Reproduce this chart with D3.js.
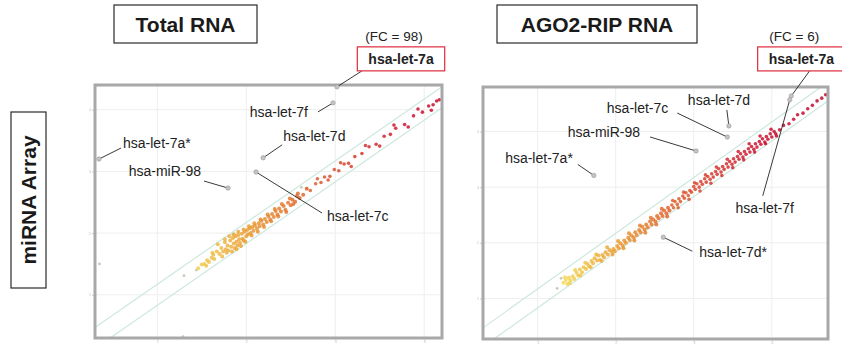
<!DOCTYPE html>
<html>
<head>
<meta charset="utf-8">
<script src="https://cdn.jsdelivr.net/npm/d3@7"></script>
<style>
  body { margin: 0; background: #fff; }
  svg { display: block; font-family: "Liberation Sans", Arial, sans-serif; }
</style>
</head>
<body>
<svg width="842" height="346"></svg>
<script>
// axis ticks (log intensity)
const tickVals = [1, 2, 3, 4];
const tickLabels = ["1", "2", "3", "4"];
const cutoff = 0.17;   // fold-change guide lines, y = x +/- cutoff

// ---- Total RNA panel ----
const totalPts = [
  [1.46,1.43],[1.50,1.49],[1.53,1.50],[1.56,1.56],[1.58,1.53],[1.61,1.60],[1.63,1.65],[1.64,1.58],
  [1.67,1.70],[1.68,1.82],[1.70,1.66],[1.72,1.76],[1.74,1.70],[1.76,1.85],[1.77,1.74],
  [1.79,1.80],[1.80,1.72],[1.82,1.88],[1.83,1.78],[1.85,1.92],[1.86,1.83],[1.87,1.76],[1.88,1.95],
  [1.89,1.86],[1.90,1.80],[1.91,1.97],[1.92,1.90],[1.93,1.84],[1.95,1.99],[1.96,1.91],[1.97,1.88],
  [1.98,2.02],[2.00,1.95],[2.01,2.05],[2.02,1.98],[2.04,2.08],[2.05,2.00],[2.07,2.10],[2.08,2.04],
  [2.10,2.12],[2.12,2.07],[2.14,2.16],[2.15,2.11],[2.17,2.20],[2.19,2.14],[2.21,2.23],[2.23,2.18],
  [2.25,2.27],[2.27,2.22],[2.29,2.31],[2.31,2.26],[2.33,2.36],[2.35,2.30],[2.37,2.40],[2.39,2.35],
  [2.42,2.44],[2.44,2.38],[2.47,2.49],[2.50,2.45],[2.52,2.54],[2.55,2.51],[2.57,2.60],[2.60,2.57],
  [1.76,1.90],[1.78,1.68],[1.81,1.95],[1.84,1.70],[1.86,1.98],[1.89,1.74],[1.91,2.02],[1.94,1.79],
  [1.97,2.06],[1.99,1.86],[2.03,2.11],[2.06,1.96],[2.09,2.16],[2.13,2.02],[2.16,2.22],[2.20,2.10],
  [2.24,2.30],[2.28,2.19],[2.32,2.39],[2.36,2.27],[2.40,2.47],[2.45,2.34],[2.49,2.56],[2.53,2.47],
  [2.58,2.64],[1.73,1.62],[1.62,1.68],[1.55,1.47],
  [2.64,2.62],[2.68,2.72],[2.72,2.69],[2.78,2.80],[2.84,2.82],[2.88,2.91],[2.94,2.92],[2.99,3.03],
  [3.04,3.01],[3.10,3.12],[3.15,3.13],[3.22,3.24],[3.30,3.29],[3.38,3.40],[3.46,3.44],[3.55,3.57],
  [3.62,3.60],[3.68,3.70],[3.78,3.76],[3.88,3.90],[3.98,3.96],[4.05,4.06],[4.10,4.08],[4.14,4.14],[4.17,4.16],
  [2.80,2.88],[2.92,2.86],[3.06,3.14],[3.18,3.08],[3.34,3.42],[3.50,3.41],[3.66,3.75],[3.82,3.72],
  [3.93,4.01],[4.08,3.99]
];
const totalStray = [[0.35,1.50],[1.29,0.32],[1.30,1.31],[1.44,1.40],[1.85,1.98],[2.62,2.74],[2.68,2.73]];
const totalNames = ["hsa-let-7a", "hsa-let-7f", "hsa-let-7a*", "hsa-let-7d", "hsa-miR-98", "hsa-let-7c"];
const totalOutX = [3.02, 2.975, 0.345, 2.19, 1.795, 2.11];
const totalOutY = [4.37, 4.11, 3.20, 3.22, 2.73, 2.99];

// ---- AGO2-RIP RNA panel ----
const ripPts = [
  [1.33,1.28],[1.36,1.33],[1.38,1.26],[1.40,1.37],[1.42,1.32],[1.45,1.40],[1.47,1.35],[1.50,1.46],
  [1.52,1.41],[1.54,1.52],[1.57,1.47],[1.59,1.56],[1.62,1.53],[1.64,1.62],[1.66,1.58],[1.69,1.67],
  [1.71,1.63],[1.73,1.72],[1.76,1.68],[1.78,1.77],[1.80,1.69],[1.83,1.78],[1.85,1.74],[1.87,1.83],
  [1.90,1.79],[1.92,1.87],[1.95,1.84],
  [1.97,1.89],[1.99,1.85],[2.02,1.94],[2.04,1.90],[2.06,1.99],[2.09,1.95],[2.11,2.04],[2.13,2.00],
  [2.16,2.09],[2.18,2.05],[2.20,2.13],[2.23,2.10],[2.25,2.19],[2.27,2.14],[2.30,2.23],[2.32,2.19],
  [2.34,2.29],[2.37,2.24],[2.39,2.33],[2.41,2.28],[2.44,2.38],[2.46,2.33],[2.48,2.42],[2.51,2.38],
  [2.53,2.48],[2.55,2.44],[2.58,2.53],[2.60,2.48],[2.62,2.58],[2.65,2.53],[2.67,2.63],[2.69,2.58],
  [2.72,2.68],[2.74,2.63],[2.76,2.74],[2.79,2.69],[2.81,2.79],[2.83,2.74],[2.86,2.84],[2.88,2.80],
  [2.90,2.90],[2.93,2.85],[2.95,2.94],
  [2.97,2.91],[3.00,3.01],[3.02,2.96],[3.04,3.06],[3.07,3.00],[3.09,3.10],[3.11,3.05],[3.14,3.15],
  [3.16,3.09],[3.18,3.19],[3.21,3.14],[3.23,3.24],[3.25,3.18],[3.28,3.28],[3.30,3.23],[3.32,3.33],
  [3.35,3.27],[3.37,3.37],[3.39,3.32],[3.42,3.42],[3.44,3.36],[3.46,3.46],[3.49,3.41],[3.51,3.51],
  [3.53,3.45],[3.56,3.55],[3.58,3.50],[3.60,3.60],[3.63,3.54],[3.65,3.64],[3.67,3.59],[3.70,3.69],
  [3.72,3.63],[3.74,3.73],[3.77,3.68],[3.79,3.78],[3.81,3.72],[3.84,3.82],[3.86,3.77],[3.88,3.87],
  [3.91,3.81],[3.93,3.91],[3.95,3.86],[3.98,3.96],[4.00,3.90],[4.03,4.00],[4.05,3.96],
  [1.35,1.38],[1.41,1.27],[1.48,1.51],[1.55,1.41],[1.61,1.64],[1.68,1.56],[1.75,1.79],[1.82,1.67],
  [1.89,1.92],[1.96,1.79],[2.03,2.03],[2.10,1.90],[2.17,2.17],[2.24,2.04],[2.31,2.31],[2.38,2.18],
  [2.45,2.45],[2.52,2.33],[2.59,2.61],[2.66,2.47],[2.73,2.76],[2.80,2.63],[2.87,2.91],[2.94,2.78],
  [3.01,3.08],[3.08,2.93],[3.15,3.22],[3.22,3.07],[3.29,3.36],[3.36,3.21],[3.43,3.50],[3.50,3.35],
  [3.57,3.64],[3.64,3.49],[3.71,3.78],[3.78,3.63],[3.85,3.92],[3.92,3.78],[3.99,4.04],[4.06,3.92],
  [4.10,4.03],[4.15,4.11],[4.22,4.14],[4.28,4.22],[4.33,4.30],[4.40,4.33],[4.46,4.41],[4.52,4.47],
  [4.58,4.55],[4.64,4.60],[4.69,4.66]
];
const ripStray = [[1.25,1.18],[1.30,1.36]];
const ripNames = ["hsa-let-7a", "hsa-let-7f", "hsa-let-7d", "hsa-let-7c", "hsa-miR-98", "hsa-let-7a*", "hsa-let-7d*"];
const ripOutX = [4.25, 4.23, 3.45, 3.43, 3.03, 1.72, 2.61];
const ripOutY = [4.64, 4.57, 4.10, 3.90, 3.65, 3.21, 2.10];

const foldChange = ["(FC = 98)", "(FC = 6)"];

const svg = d3.select("svg");
const heat = d3.scaleLinear()
  .domain([1.5, 2.0, 2.7, 3.3])
  .range(["#f0c848", "#e99a2c", "#dc5a22", "#d22a22"]);

// label layout: [leader dx, leader dy, text dx, text dy, anchor] relative to the point
const totalLayout = [
  [25, -16, 64, -23, "middle"],
  [-15, 9, -25, 14, "end"],
  [22, -11, 24, -11, "start"],
  [19, -13, 20, -17, "start"],
  [-24, -7, -27, -12, "end"],
  [66, 41, 71, 49, "start"]
];
const ripLayout = [
  [19, -26, 10, -32, "middle"],
  [-27, 96, -25, 113, "middle"],
  [-2, -16, -41, -21, "start"],
  [-50, -24, -59, -24, "end"],
  [-46, -14, -56, -14, "end"],
  [-16, -11, -21, -12, "end"],
  [29, 14, 36, 20, "start"]
];

function panel(box, xDom, yDom, pts, stray, names, ox, oy, layout, fc) {
  const x = d3.scaleLinear().domain(xDom).range([box.left, box.right]);
  const y = d3.scaleLinear().domain(yDom).range([box.bottom, box.top]);
  const g = svg.append("g");

  g.append("rect")
    .attr("x", box.left).attr("y", box.top)
    .attr("width", box.right - box.left).attr("height", box.bottom - box.top)
    .attr("fill", "#fff");

  // faint grid
  g.append("g").selectAll("line").data(tickVals).join("line")
    .attr("x1", d => x(d)).attr("x2", d => x(d))
    .attr("y1", box.top).attr("y2", box.bottom)
    .attr("stroke", "#eeeeee").attr("stroke-width", 1);
  g.append("g").selectAll("line").data(tickVals).join("line")
    .attr("y1", d => y(d)).attr("y2", d => y(d))
    .attr("x1", box.left).attr("x2", box.right)
    .attr("stroke", "#eeeeee").attr("stroke-width", 1);

  // tiny tick labels, as in the print
  const xAxis = d3.axisBottom(x).tickValues(tickVals).tickFormat((d, i) => tickLabels[i]).tickSize(1).tickPadding(0);
  const yAxis = d3.axisLeft(y).tickValues(tickVals).tickFormat((d, i) => tickLabels[i]).tickSize(2).tickPadding(1);
  const ax = g.append("g").attr("transform", "translate(0," + (box.bottom + 1.5) + ")").call(xAxis);
  const ay = g.append("g").attr("transform", "translate(" + (box.left - 1) + ",0)").call(yAxis);
  [ax, ay].forEach(a => {
    a.select(".domain").remove();
    a.selectAll("line").attr("stroke", "#ccc");
    a.selectAll("text").attr("fill", "#bbb").attr("font-size", 3.5);
  });

  // fold-change guide lines
  const clip = "clip" + box.left;
  svg.append("clipPath").attr("id", clip).append("rect")
    .attr("x", box.left).attr("y", box.top)
    .attr("width", box.right - box.left).attr("height", box.bottom - box.top);
  const guides = g.append("g").attr("clip-path", "url(#" + clip + ")");
  [cutoff, -cutoff].forEach(c => {
    guides.append("line")
      .attr("x1", x(xDom[0])).attr("y1", y(xDom[0] + c))
      .attr("x2", x(xDom[1])).attr("y2", y(xDom[1] + c))
      .attr("stroke", "#cde8dc").attr("stroke-width", 1.2);
  });

  guides.append("g").selectAll("circle").data(stray).join("circle")
    .attr("cx", d => x(d[0])).attr("cy", d => y(d[1]))
    .attr("r", 1.4).attr("fill", "#c9c9b8");

  guides.append("g").selectAll("circle").data(pts).join("circle")
    .attr("cx", d => x(d[0])).attr("cy", d => y(d[1]))
    .attr("r", d => d[0] > 2.7 ? 1.8 : 2.0)
    .attr("fill", d => heat(d[0]))
    .attr("fill-opacity", 0.8);

  // frame
  g.append("rect")
    .attr("x", box.left).attr("y", box.top)
    .attr("width", box.right - box.left).attr("height", box.bottom - box.top)
    .attr("fill", "none").attr("stroke", "#a8a8a8").attr("stroke-width", 3);

  // highlighted miRNAs
  names.forEach((name, i) => {
    const px = x(ox[i]), py = y(oy[i]);
    const L = layout[i];
    g.append("line")
      .attr("x1", px).attr("y1", py)
      .attr("x2", px + L[0]).attr("y2", py + L[1])
      .attr("stroke", "#222").attr("stroke-width", 0.9);
    g.append("circle")
      .attr("cx", px).attr("cy", py).attr("r", 2.2)
      .attr("fill", "#c4c4c4").attr("stroke", "#999").attr("stroke-width", 0.6);

    const bold = i === 0;
    const frame = bold ? g.append("rect") : null;
    const t = g.append("text")
      .attr("x", px + L[2]).attr("y", py + L[3])
      .attr("text-anchor", L[4])
      .attr("font-size", 14)
      .attr("font-weight", bold ? "bold" : "normal")
      .attr("fill", "#222")
      .text(name);
    if (bold) {
      const w = t.node().getComputedTextLength() + 22;
      frame
        .attr("x", px + L[2] - w / 2).attr("y", py + L[3] - 17)
        .attr("width", w).attr("height", 24)
        .attr("fill", "#fff").attr("stroke", "#e03a4a").attr("stroke-width", 1.3);
      g.append("text")
        .attr("x", px + L[2] - 7).attr("y", py + L[3] - 23)
        .attr("text-anchor", "middle")
        .attr("font-size", 13.5)
        .attr("fill", "#222")
        .text(fc);
    }
  });
}

panel({left: 95, right: 442, top: 85, bottom: 338}, [0.3, 4.2], [0.3, 4.4],
  totalPts, totalStray, totalNames, totalOutX, totalOutY, totalLayout, foldChange[0]);
panel({left: 483, right: 828, top: 87, bottom: 339}, [0.3, 4.72], [0.27, 4.8],
  ripPts, ripStray, ripNames, ripOutX, ripOutY, ripLayout, foldChange[1]);

// boxed panel titles
function titleBox(cx, cy, w, h, label, rotate) {
  const g = svg.append("g").attr("transform", "translate(" + cx + "," + cy + ")" + (rotate ? " rotate(-90)" : ""));
  g.append("rect")
    .attr("x", -w / 2).attr("y", -h / 2).attr("width", w).attr("height", h)
    .attr("fill", "#fff").attr("stroke", "#2a2a2a").attr("stroke-width", 1.2);
  g.append("text")
    .attr("text-anchor", "middle").attr("dy", "0.36em")
    .attr("font-size", 21).attr("font-weight", "bold").attr("fill", "#1a1a1a")
    .text(label);
}
titleBox(185.5, 24, 143, 38, "Total RNA", false);
titleBox(597, 24, 200, 38, "AGO2-RIP RNA", false);
titleBox(28.5, 200, 176, 35, "miRNA Array", true);
</script>
</body>
</html>
